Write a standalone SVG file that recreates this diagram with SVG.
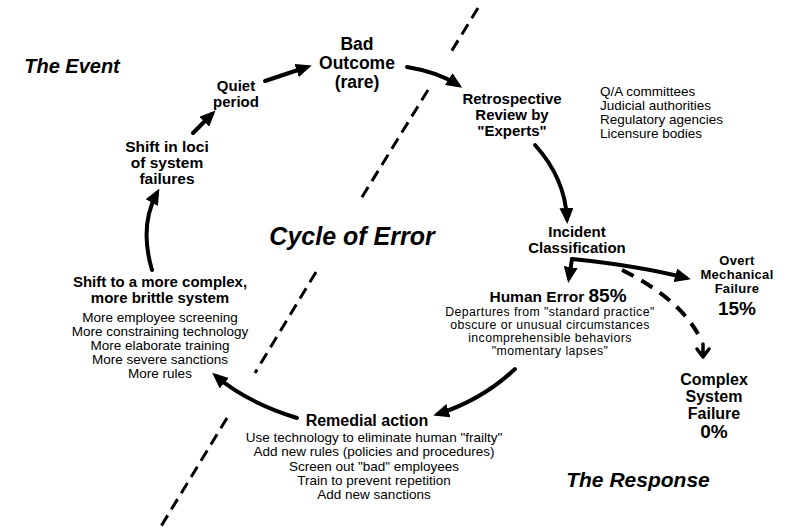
<svg xmlns="http://www.w3.org/2000/svg" width="789" height="528" viewBox="0 0 789 528">
<style>
text{font-family:"Liberation Sans",Arial,sans-serif;fill:#000;text-anchor:middle}
.b{font-weight:bold}
.bi{font-weight:bold;font-style:italic}
.r{font-weight:normal}
.arr{fill:none;stroke:#000;stroke-width:4;stroke-linecap:round;marker-end:url(#ah)}
.dash{fill:none;stroke:#000;stroke-width:3;stroke-dasharray:12 7}
.dcurve{fill:none;stroke:#000;stroke-width:4;stroke-dasharray:13 9}
</style>
<defs>
<marker id="ah" markerUnits="userSpaceOnUse" markerWidth="16" markerHeight="14" refX="11" refY="7" orient="auto">
<path d="M0,0 L16,7 L0,14 z" fill="#000"/>
</marker>
</defs>
<rect width="789" height="528" fill="#fff"/>
<g id="divider">
<line class="dash" x1="478" y1="8" x2="451" y2="52"/>
<line class="dash" x1="428" y1="90" x2="359" y2="202"/>
<line class="dash" x1="316" y1="272" x2="255" y2="373"/>
<line class="dash" x1="227" y1="418" x2="160" y2="528"/>
</g>
<g id="labels">
<text class="bi" x="72" y="73" font-size="20">The Event</text>
<text class="bi" x="352" y="245" font-size="25">Cycle of Error</text>
<text class="bi" x="638" y="487" font-size="21">The Response</text>
</g>
<g id="connectors">
<path class="arr" d="M193,133 L212,114"/>
<path class="arr" d="M265,81 L307,67"/>
<path class="arr" d="M407,67 Q438,72 458,85"/>
<path class="arr" d="M535,145 Q565,178 567,219"/>
<path class="arr" d="M572,259 L569,278"/>
<path class="arr" d="M572,259 Q640,266 686,278"/>
<path class="dcurve" d="M622,270 Q678,298 698,334"/>
<path d="M703,344 L703,356 M697,349 L703,357 L709,349" fill="none" stroke="#000" stroke-width="3.5" stroke-linecap="round" stroke-linejoin="round"/>
<path class="arr" d="M515,369 Q482,400 438,414"/>
<path class="arr" d="M297,418 Q246,402 216,376"/>
<path class="arr" d="M152,270 Q139,226 157,193"/>
</g>
<g id="quiet-period">
<text class="b" font-size="15"><tspan x="236" y="91">Quiet</tspan><tspan x="236" y="107">period</tspan></text>
</g>
<g id="bad-outcome">
<text class="b" font-size="17.5"><tspan x="357" y="50">Bad</tspan><tspan x="357" y="69">Outcome</tspan><tspan x="357" y="88">(rare)</tspan></text>
</g>
<g id="retrospective-review">
<text class="b" font-size="15"><tspan x="512" y="104">Retrospective</tspan><tspan x="512" y="120">Review by</tspan><tspan x="512" y="136">"Experts"</tspan></text>
</g>
<g id="reviewers">
<text class="r" font-size="13.5" style="text-anchor:start"><tspan x="600" y="96">Q/A committees</tspan><tspan x="600" y="110">Judicial authorities</tspan><tspan x="600" y="124">Regulatory agencies</tspan><tspan x="600" y="138">Licensure bodies</tspan></text>
</g>
<g id="incident-classification">
<text class="b" font-size="15"><tspan x="577" y="237">Incident</tspan><tspan x="577" y="253">Classification</tspan></text>
</g>
<g id="overt-mechanical">
<text class="b" font-size="13" letter-spacing="0.3"><tspan x="737" y="265">Overt</tspan><tspan x="737" y="279">Mechanical</tspan><tspan x="737" y="293">Failure</tspan><tspan x="737" y="315" font-size="19" letter-spacing="0">15%</tspan></text>
</g>
<g id="complex-system">
<text class="b" font-size="16"><tspan x="714" y="385">Complex</tspan><tspan x="714" y="402">System</tspan><tspan x="714" y="419">Failure</tspan><tspan x="714" y="438" font-size="19">0%</tspan></text>
</g>
<g id="human-error">
<text class="b" x="558" y="302" font-size="15.5">Human Error <tspan font-size="19">85%</tspan></text>
<text class="r" font-size="12.3" letter-spacing="0.4"><tspan x="550" y="316">Departures from "standard practice"</tspan><tspan x="550" y="329">obscure or unusual circumstances</tspan><tspan x="550" y="342">incomprehensible behaviors</tspan><tspan x="550" y="355">"momentary lapses"</tspan></text>
</g>
<g id="remedial-action">
<text class="b" x="367" y="426" font-size="16">Remedial action</text>
<text class="r" font-size="13.5"><tspan x="374" y="442">Use technology to eliminate human "frailty"</tspan><tspan x="374" y="456">Add new rules (policies and procedures)</tspan><tspan x="374" y="471">Screen out "bad" employees</tspan><tspan x="374" y="485">Train to prevent repetition</tspan><tspan x="374" y="499">Add new sanctions</tspan></text>
</g>
<g id="complex-brittle">
<text class="b" font-size="15"><tspan x="160" y="287">Shift to a more complex,</tspan><tspan x="160" y="303">more brittle system</tspan></text>
<text class="r" font-size="13.5"><tspan x="160" y="322">More employee screening</tspan><tspan x="160" y="336">More constraining technology</tspan><tspan x="160" y="350">More elaborate training</tspan><tspan x="160" y="364">More severe sanctions</tspan><tspan x="160" y="378">More rules</tspan></text>
</g>
<g id="shift-loci">
<text class="b" font-size="15.5"><tspan x="167" y="152">Shift in loci</tspan><tspan x="167" y="168">of system</tspan><tspan x="167" y="184">failures</tspan></text>
</g>
</svg>
